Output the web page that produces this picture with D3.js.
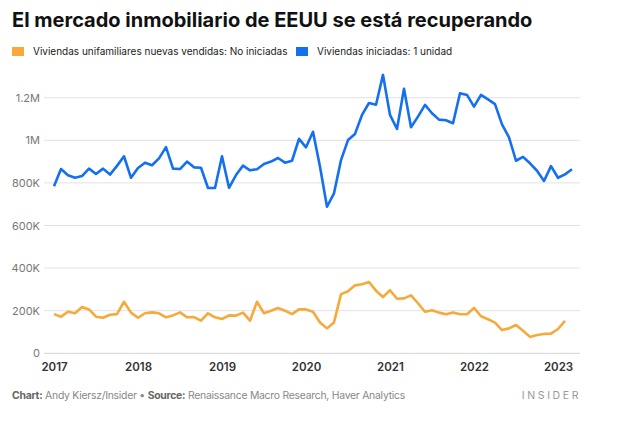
<!DOCTYPE html>
<html>
<head>
<meta charset="utf-8">
<script src="https://cdn.jsdelivr.net/npm/d3@7"></script>
<style>
  body { margin: 0; background: #fff; font-family: Inter, "Noto Sans", sans-serif; }
</style>
</head>
<body>
<script>
// monthly series, Jan 2017 onwards
const startYear = 2017
const vendidas = [184, 172, 195, 188, 217, 206, 172, 167, 181, 184, 242, 191,
  167, 188, 192, 188, 169, 178, 192, 169, 170, 153, 188, 169,
  161, 178, 177, 191, 153, 242, 188, 200, 213, 200, 184, 206,
  206, 195, 145, 117, 145, 278, 291, 319, 324, 335, 294, 264,
  296, 256, 258, 272, 235, 195, 202, 191, 183, 192, 183, 183,
  213, 174, 160, 144, 109, 117, 133, 106, 77, 86, 91, 92,
  114, 152]
const iniciadas = [784, 865, 836, 824, 832, 867, 842, 867, 839, 880, 925, 824,
  870, 895, 883, 915, 968, 867, 865, 900, 873, 871, 776, 776,
  925, 777, 837, 881, 859, 864, 889, 900, 917, 895, 904, 1007,
  967, 1040, 876, 688, 751, 907, 1001, 1030, 1119, 1175, 1167, 1307,
  1119, 1053, 1242, 1061, 1111, 1166, 1127, 1097, 1094, 1080, 1221, 1213,
  1158, 1213, 1192, 1170, 1075, 1014, 904, 922, 892, 857, 809, 879,
  824, 840, 864]
const yTicks = [0, 200, 400, 600, 800, 1000, 1200]
const yTickLabels = ['0', '200K', '400K', '600K', '800K', '1M', '1.2M']
const years = [2017, 2018, 2019, 2020, 2021, 2022, 2023]
const legendLabels = ['Viviendas unifamiliares nuevas vendidas: No iniciadas', 'Viviendas iniciadas: 1 unidad']
const colors = ['#f7a93b', '#1570ef']

const W = 640, H = 422

const svg = d3.select('body').append('svg')
  .attr('width', W)
  .attr('height', H)

svg.append('text')
  .attr('x', 12).attr('y', 27)
  .attr('font-size', 20)
  .attr('font-weight', 700)
  .attr('fill', '#111')
  .text('El mercado inmobiliario de EEUU se está recuperando')

// legend
const legX = [12, 296]
legendLabels.forEach(function (t, i) {
  svg.append('rect')
    .attr('x', legX[i]).attr('y', 47)
    .attr('width', 12).attr('height', 9)
    .attr('fill', colors[i])
  svg.append('text')
    .attr('x', legX[i] + 21).attr('y', 55)
    .attr('font-size', 10)
    .attr('fill', '#222')
    .text(t)
})

var x = d3.scaleLinear()
  .domain([0, 12 * (years.length - 1)])
  .range([54, 558])

var y = d3.scaleLinear()
  .domain([0, 1200])
  .range([353.3, 97.7])

// grid
svg.append('g')
  .selectAll('line')
  .data(yTicks)
  .enter().append('line')
  .attr('x1', 44).attr('x2', 580)
  .attr('y1', function (d) { return y(d) })
  .attr('y2', function (d) { return y(d) })
  .attr('stroke', function (d) { return d === 0 ? '#d4d4d4' : '#e2e2e2' })
  .attr('stroke-width', 1)

svg.append('g')
  .selectAll('text')
  .data(yTicks)
  .enter().append('text')
  .attr('x', 40)
  .attr('y', function (d) { return y(d) + 4 })
  .attr('text-anchor', 'end')
  .attr('font-size', 11)
  .attr('fill', '#777')
  .text(function (d, i) { return yTickLabels[i] })

// x axis
var xAxis = d3.axisBottom(x)
  .tickValues(years.map(function (yr) { return (yr - startYear) * 12 }))
  .tickSize(0)
  .tickPadding(5)
  .tickFormat(function (d) { return startYear + d / 12 })

var gx = svg.append('g')
  .attr('transform', 'translate(0,' + 358 + ')')
  .call(xAxis)
gx.select('.domain').remove()
gx.selectAll('text')
  .attr('font-size', 11.5)
  .attr('font-weight', 600)
  .attr('font-family', 'Inter, sans-serif')
  .attr('fill', '#333')

var line = d3.line()
  .x(function (d, i) { return x(i) })
  .y(function (d) { return y(d) })

svg.append('path')
  .datum(vendidas)
  .attr('fill', 'none')
  .attr('stroke', colors[0])
  .attr('stroke-width', 2.6)
  .attr('stroke-linejoin', 'round')
  .attr('d', line)

svg.append('path')
  .datum(iniciadas)
  .attr('fill', 'none')
  .attr('stroke', colors[1])
  .attr('stroke-width', 2.6)
  .attr('stroke-linejoin', 'round')
  .attr('d', line)

// footer
var foot = svg.append('text')
  .attr('x', 12).attr('y', 399)
  .attr('font-size', 10.4)
  .attr('letter-spacing', -0.25)
  .attr('fill', '#888')
foot.append('tspan').attr('font-weight', 700).attr('fill', '#666').text('Chart:')
foot.append('tspan').text(' Andy Kiersz/Insider • ')
foot.append('tspan').attr('font-weight', 700).attr('fill', '#666').text('Source:')
foot.append('tspan').text(' Renaissance Macro Research, Haver Analytics')

svg.append('text')
  .attr('x', 581).attr('y', 399)
  .attr('text-anchor', 'end')
  .attr('font-size', 10.5)
  .attr('letter-spacing', 2.6)
  .attr('fill', '#999')
  .text('INSIDER')
</script>
</body>
</html>
